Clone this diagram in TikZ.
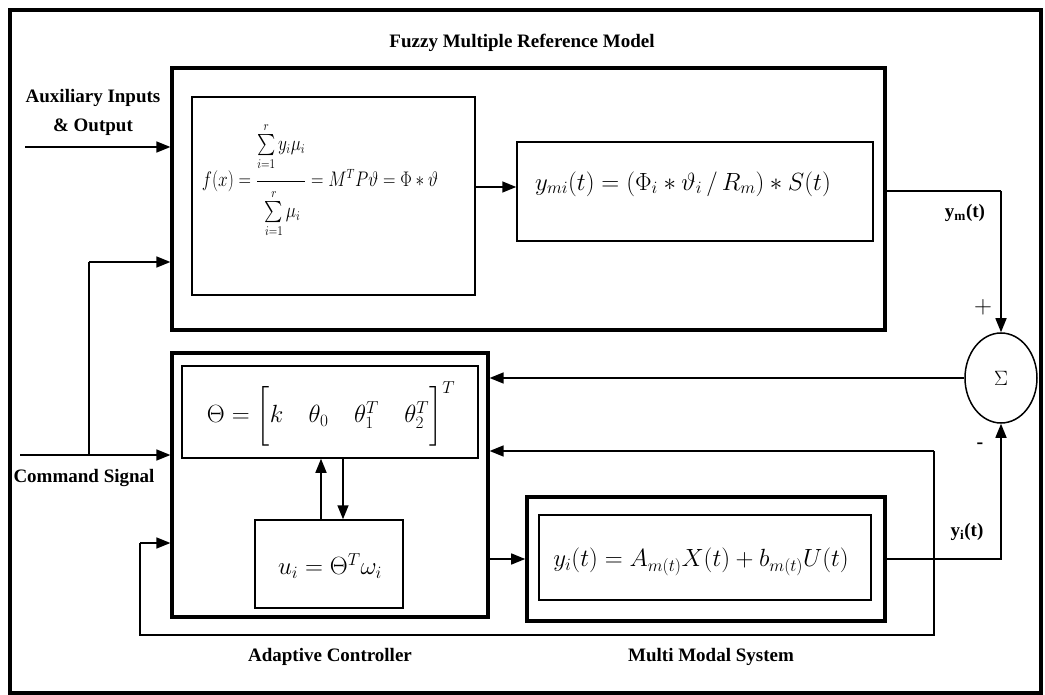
\documentclass[tikz,border=0pt]{standalone}
\usepackage{amsmath}
\usepackage{fontspec}
\setmainfont{Liberation Serif}
\usetikzlibrary{arrows.meta,shapes.geometric}
\begin{document}
\begin{tikzpicture}[x=1pt,y=-1pt,
  thickbox/.style={draw, line width=3.2pt, inner sep=0pt},
  thinbox/.style={draw, line width=1.5pt, inner sep=0pt},
  conn/.style={line width=1.5pt, -{Triangle[length=14pt,width=11pt]}},
  wire/.style={line width=1.5pt},
  lbl/.style={font=\fontsize{19}{22}\selectfont\bfseries, inner sep=0pt},
  eq/.style={font=\fontsize{25.5}{30}\selectfont, inner sep=0pt},
  eqf/.style={font=\fontsize{16}{19}\selectfont, inner sep=0pt}]
\useasboundingbox (0,0) rectangle (1045,695);
% outer frame
\draw[line width=4.5pt] (10,10) rectangle (1041,693);

% Fuzzy multiple reference model
\node[thickbox, minimum width=713pt, minimum height=262pt] (fmrm) at (528.5,199) {};
\node[lbl] (fmrmlbl) at (522,43) {Fuzzy Multiple Reference Model};
\node[thinbox, minimum width=283pt, minimum height=198pt] (fbox) at (333.5,196) {};
\node[eqf] (feq) at (320,180) {\scalebox{1}[1.22]{$\displaystyle f(x)=\frac{\sum\limits_{i=1}^{r} y_i\mu_i\rule[-23pt]{0pt}{0pt}}{\rule{0pt}{27pt}\sum\limits_{i=1}^{r}\mu_i}=M^{T}P\vartheta=\Phi*\vartheta$}};
\node[thinbox, minimum width=356pt, minimum height=99pt] (ymibox) at (695,191.5) {};
\node[eq] (ymieq) at (683,184) {$y_{mi}(t)=(\Phi_i*\vartheta_i\,/\,R_m)*S(t)$};

% Adaptive controller
\node[thickbox, minimum width=316pt, minimum height=264pt] (ac) at (330,485) {};
\node[thinbox, minimum width=296pt, minimum height=92pt] (thetabox) at (330,412) {};
\node[eq] (thetaeq) at (331,414) {$\Theta=\biggl[k\quad\theta_0\quad\theta_1^{T}\quad\theta_2^{T}\biggr]^{T}$};
\node[thinbox, minimum width=148pt, minimum height=88pt] (ubox) at (329,564) {};
\node[eq] (ueq) at (330,566) {$u_i=\Theta^{T}\omega_i$};
\node[lbl] (aclbl) at (330,657) {Adaptive Controller};

% Multi modal system
\node[draw, line width=3.6pt, inner sep=0pt, minimum width=358pt, minimum height=124pt] (mms) at (706,559) {};
\node[thinbox, minimum width=332pt, minimum height=85pt] (mmsin) at (705,557.5) {};
\node[eq] (yieq) at (701,562) {$y_i(t)=A_{m(t)}X(t)+b_{m(t)}U(t)$};
\node[lbl] (mmslbl) at (711,657) {Multi Modal System};

% summing junction
\node[draw, ellipse, line width=1.5pt, minimum width=72pt, minimum height=90pt, inner sep=0pt] (sigma) at (1001,378) {\fontsize{20}{22}\selectfont$\Sigma$};
\node[font=\fontsize{24}{26}\selectfont, inner sep=0pt] (plus) at (983,307) {$+$};
\node[font=\fontsize{20}{22}\selectfont\bfseries, inner sep=0pt] (minus) at (980,446) {-};
\node[lbl] (ymlbl) at (965,213) {y\textsubscript{m}(t)};
\node[lbl] (yilbl) at (967,532) {y\textsubscript{i}(t)};

% inputs
\node[lbl, align=center] (auxlbl) at (93,112) {Auxiliary Inputs\\[7pt]\& Output};
\node[lbl] (cmdlbl) at (84,478) {Command Signal};
\coordinate (auxin) at (25,147);
\coordinate (cmdin) at (20,455);
\coordinate (cmdbr) at (89,455);
\coordinate (cmdup) at (89,262);
\coordinate (ffrom) at (475,187);
\coordinate (yjoin) at (1001,191);
\coordinate (fb) at (934,559);
\coordinate (fbtop) at (934,451);
\coordinate (fbbot) at (140,635);
\coordinate (fbin) at (140,543);
\coordinate (upx) at (321,0);
\coordinate (dnx) at (343,0);

\draw[conn] (auxin) -- (fmrm.west |- auxin);
\draw[conn] (cmdin) -- (ac.west |- cmdin);
\draw[wire] (cmdbr) -- (cmdup);
\draw[conn] (cmdup) -- (fmrm.west |- cmdup);
\draw[conn] (ffrom) -- (ymibox.west |- ffrom);
\draw[wire] (fmrm.east |- yjoin) -- (yjoin);
\draw[conn] (yjoin) -- (sigma.north);
\draw[conn] (sigma.west) -- (ac.east |- sigma.west);
\draw[conn] (mms.east) -| (sigma.south);
\draw[conn] (ac.east |- mms.west) -- (mms.west);
\draw[wire] (fb) -- (fbtop);
\draw[conn] (fbtop) -- (ac.east |- fbtop);
\draw[wire] (fb) |- (fbbot) -- (fbin);
\draw[conn] (fbin) -- (ac.west |- fbin);
\draw[conn] (ubox.north -| upx) -- (thetabox.south -| upx);
\draw[conn] (thetabox.south -| dnx) -- (ubox.north -| dnx);
\end{tikzpicture}
\end{document}
